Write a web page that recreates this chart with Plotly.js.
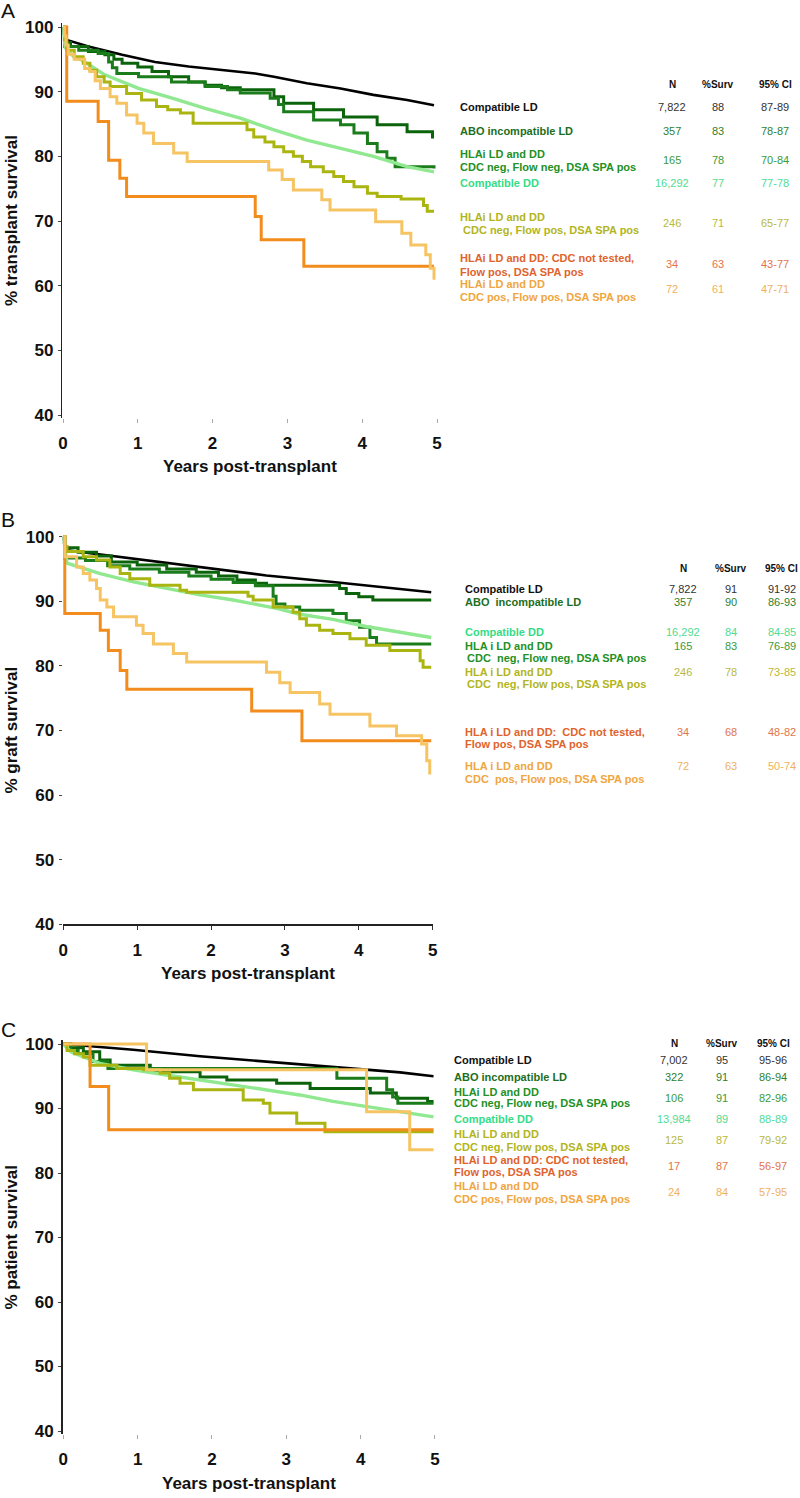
<!DOCTYPE html>
<html><head><meta charset="utf-8">
<script src="https://cdn.plot.ly/plotly-3.0.1.min.js"></script>
<style>html,body{margin:0;padding:0;background:#fff}#chart{width:800px;height:1498px}</style>
</head><body><div id="chart"></div>
<script>
// ================= DATA =================
const groupNames = ["Compatible LD","ABO incompatible LD","HLAi CDC neg, Flow neg, DSA SPA pos","Compatible DD","HLAi CDC neg, Flow pos, DSA SPA pos","HLAi CDC not tested, Flow pos, DSA SPA pos","HLAi CDC pos, Flow pos, DSA SPA pos"];
const xTickVals = [0,1,2,3,4,5];
const yTickVals = [40,50,60,70,80,90,100];

// ---- Panel A: % transplant survival ----
const tA_compLD = [0,0.02,0.05,0.34,0.79,1.23,1.68,2.57,2.82,3.26,3.71,4.15,4.60,4.96];
const sA_compLD = [100,98.4,98.0,97.0,95.7,94.6,93.9,92.8,92.3,91.3,90.5,89.5,88.7,87.9];
const tA_abo = [0,0.02,0.10,0.34,0.56,0.68,0.79,1.00,1.19,1.41,1.68,1.90,2.12,2.37,2.82,2.95,3.35,3.75,4.20,4.60,4.94,4.96];
const sA_abo = [100,97.6,97.0,96.2,95.7,95.0,94.4,93.8,93.1,92.3,91.5,91.0,90.6,90.3,89.2,88.2,87.2,86.1,84.9,83.8,83.0,83.0];
const tA_negneg = [0,0.02,0.21,0.47,0.61,0.66,0.72,1.01,1.45,1.90,2.20,2.37,2.77,2.88,2.95,3.35,3.71,3.89,4.07,4.20,4.33,4.44,4.96];
const sA_negneg = [100,97.0,96.4,95.9,94.6,93.7,92.8,92.3,91.5,90.8,90.3,89.8,89.0,88.0,86.9,85.6,84.9,83.6,82.0,80.7,79.7,78.4,78.1];
const tA_compDD = [0,0.03,0.16,0.25,0.56,1.01,1.46,1.90,2.37,2.82,3.26,3.71,4.15,4.60,4.96];
const sA_compDD = [100,96.8,95.2,94.9,92.6,90.5,89.0,87.4,85.9,84.1,82.5,81.3,80.0,78.4,77.6];
const tA_negpos = [0,0.02,0.05,0.15,0.27,0.36,0.45,0.55,0.63,0.85,1.05,1.25,1.40,1.57,1.74,2.46,2.55,2.70,2.82,2.95,3.08,3.20,3.31,3.48,3.62,3.75,3.89,4.07,4.20,4.52,4.82,4.87,4.96];
const sA_negpos = [100,98.0,96.4,95.4,94.4,93.3,92.3,91.5,90.8,89.7,88.7,87.7,87.2,86.7,85.1,84.1,83.0,82.2,81.5,80.7,80.0,79.2,78.4,77.6,76.9,76.1,75.3,74.3,73.8,73.4,72.4,71.5,71.5];
const tA_notTested = [0,0.05,0.47,0.61,0.76,0.85,2.57,2.65,3.22,4.96];
const sA_notTested = [100,88.5,85.4,79.4,76.6,73.8,70.7,67.1,63.0,63.0];
const tA_cdcPos = [0,0.02,0.04,0.07,0.15,0.29,0.36,0.43,0.50,0.63,0.72,0.85,0.99,1.08,1.21,1.48,1.66,2.75,2.93,3.08,3.46,3.57,4.18,4.53,4.65,4.85,4.91,4.96];
const sA_cdcPos = [100,98.6,97.2,95.8,95.0,93.6,93.1,91.7,90.5,89.2,88.2,86.4,85.1,83.6,82.0,80.5,79.2,77.9,76.4,74.8,73.3,71.7,69.9,68.1,66.3,64.8,62.7,60.9];

// ---- Panel B: % graft survival ----
const tB_compLD = [0,0.02,0.05,0.95,1.85,2.75,3.65,4.33,4.98];
const sB_compLD = [100,98.2,97.9,96.6,95.3,94.0,93.0,92.2,91.4];
const tB_abo = [0,0.02,0.20,0.45,0.65,1.00,1.40,1.80,2.10,2.35,2.60,2.75,3.74,3.83,4.00,4.19,4.98];
const sB_abo = [100,98.3,97.6,97.0,96.1,95.6,95.0,94.5,93.9,93.3,92.8,92.5,92.0,91.2,90.7,90.2,90.2];
const tB_negneg = [0,0.02,0.30,0.60,0.90,1.30,1.70,2.00,2.30,2.60,2.84,2.88,3.00,3.20,3.65,3.83,4.01,4.15,4.24,4.98];
const sB_negneg = [100,96.7,96.3,95.5,95.0,94.5,93.9,93.4,92.9,92.4,90.8,89.6,89.1,88.6,88.1,87.0,86.0,84.4,83.4,83.4];
const tB_compDD = [0,0.05,0.50,0.95,1.40,1.85,2.30,2.89,3.20,3.65,4.10,4.56,4.98];
const sB_compDD = [100,95.9,94.3,93.0,92.0,91.0,90.2,88.9,88.0,87.2,86.1,85.2,84.4];
const tB_negpos = [0,0.02,0.05,0.27,0.45,0.63,0.77,0.90,1.17,1.58,1.67,2.50,2.57,2.84,3.11,3.20,3.29,3.47,3.65,3.88,4.10,4.42,4.83,4.87,4.98];
const sB_negpos = [100,98.5,97.7,96.9,96.4,95.3,94.3,93.5,92.5,91.7,91.4,90.8,90.2,89.1,88.3,87.3,86.3,85.5,85.0,84.2,83.2,82.4,80.8,79.8,79.8];
const tB_notTested = [0,0.02,0.50,0.61,0.77,0.86,2.55,3.23,4.98];
const sB_notTested = [100,88.1,85.5,82.4,79.3,76.4,73.0,68.4,68.4];
const tB_cdcPos = [0,0.02,0.18,0.27,0.36,0.45,0.50,0.59,0.68,0.99,1.08,1.22,1.49,1.67,2.75,2.93,3.07,3.47,3.61,4.15,4.51,4.85,4.92,4.96];
const sB_cdcPos = [100,96.9,95.3,94.3,93.3,92.0,90.2,89.1,87.6,86.3,85.0,83.4,81.9,80.6,79.0,77.4,75.9,74.1,72.5,70.7,69.2,67.9,65.3,63.2];

// ---- Panel C: % patient survival ----
const tC_compLD = [0,0.94,1.84,2.74,3.63,4.08,4.53,4.98];
const sC_compLD = [100,99.1,98.1,97.3,96.5,96.0,95.6,95.0];
const tC_abo = [0,0.10,0.27,0.49,0.63,1.17,1.84,2.20,2.87,3.32,4.13,4.48,4.90,4.98];
const sC_abo = [100,99.4,98.8,97.5,96.7,95.7,94.9,94.4,93.9,93.1,92.4,91.6,91.1,91.1];
const tC_negneg = [0,0.10,0.20,0.40,0.60,3.68,4.35,4.43,4.50,4.98];
const sC_negneg = [100,99.0,98.5,97.3,96.2,94.7,92.9,91.8,90.8,90.8];
const tC_compDD = [0,0.10,0.49,0.94,1.39,1.84,2.29,2.74,3.18,3.63,4.08,4.53,4.98];
const sC_compDD = [100,98.8,97.0,96.0,95.2,94.4,93.6,92.9,92.1,91.1,90.3,89.5,88.7];
const tC_negpos = [0,0.05,0.15,0.27,0.36,0.72,1.08,1.30,1.43,1.57,1.75,2.42,2.69,2.78,3.14,3.52,4.98];
const sC_negpos = [100,99.0,98.5,98.0,96.7,96.2,96.0,95.5,94.7,93.9,92.9,91.3,90.8,89.3,87.7,86.4,86.4];
const tC_notTested = [0,0.36,0.61,4.98];
const sC_notTested = [100,93.4,86.7,86.7];
const tC_cdcPos = [0,1.12,4.08,4.66,4.98];
const sC_cdcPos = [100,96.0,89.5,83.6,83.6];

// ---- Tables ----
const labelsA = ["Compatible LD","ABO incompatible LD","HLAi LD and DD\nCDC neg, Flow neg, DSA SPA pos","Compatible DD","HLAi LD and DD\nCDC neg, Flow pos, DSA SPA pos","HLAi LD and DD: CDC not tested,\nFlow pos, DSA SPA pos","HLAi LD and DD\nCDC pos, Flow pos, DSA SPA pos"];
const nA = ["7,822","357","165","16,292","246","34","72"];
const survA = ["88","83","78","77","71","63","61"];
const ciA = ["87-89","78-87","70-84","77-78","65-77","43-77","47-71"];

const labelsB = ["Compatible LD","ABO  incompatible LD","HLA i LD and DD\nCDC  neg, Flow neg, DSA SPA pos","Compatible DD","HLA i LD and DD\nCDC  neg, Flow pos, DSA SPA pos","HLA i LD and DD:  CDC not tested,\nFlow pos, DSA SPA pos","HLA i LD and DD\nCDC  pos, Flow pos, DSA SPA pos"];
const nB = ["7,822","357","165","16,292","246","34","72"];
const survB = ["91","90","83","84","78","68","63"];
const ciB = ["91-92","86-93","76-89","84-85","73-85","48-82","50-74"];

const labelsC = ["Compatible LD","ABO incompatible LD","HLAi LD and DD\nCDC neg, Flow neg, DSA SPA pos","Compatible DD","HLAi LD and DD\nCDC neg, Flow pos, DSA SPA pos","HLAi LD and DD: CDC not tested,\nFlow pos, DSA SPA pos","HLAi LD and DD\nCDC pos, Flow pos, DSA SPA pos"];
const nC = ["7,002","322","106","13,984","125","17","24"];
const survC = ["95","91","91","89","87","87","84"];
const ciC = ["95-96","86-94","82-96","88-89","79-92","56-97","57-95"];

const headers = ["N","%Surv","95% CI"];
const yTitles = ["% transplant survival","% graft survival","% patient survival"];
const xTitle = "Years post-transplant";
const panelLetters = ["A","B","C"];

// ================= STYLE / LAYOUT =================
const W = 800, H = 1498;
const FONT = "Liberation Sans, Arial, Helvetica, sans-serif";
const lineColors = ["#000000","#0b630b","#1a7c1a","#90e890","#abb511","#f28c1c","#f6c462"];
const textColors = ["#111111","#1d6e1d","#249024","#34dc86","#b2b520","#e0632c","#f0a640"];
const numColors  = ["#333333","#2f7f2f","#3a9a3a","#50dc90","#b8b840","#e2744a","#f0b060"];
const lineWidths = [2.6,3,3,3.4,3,3,3];
const lineShapes = ["linear","hv","hv","linear","hv","hv","hv"];

const seriesA = [[tA_compLD,sA_compLD],[tA_abo,sA_abo],[tA_negneg,sA_negneg],[tA_compDD,sA_compDD],[tA_negpos,sA_negpos],[tA_notTested,sA_notTested],[tA_cdcPos,sA_cdcPos]];
const seriesB = [[tB_compLD,sB_compLD],[tB_abo,sB_abo],[tB_negneg,sB_negneg],[tB_compDD,sB_compDD],[tB_negpos,sB_negpos],[tB_notTested,sB_notTested],[tB_cdcPos,sB_cdcPos]];
const seriesC = [[tC_compLD,sC_compLD],[tC_abo,sC_abo],[tC_negneg,sC_negneg],[tC_compDD,sC_compDD],[tC_negpos,sC_negpos],[tC_notTested,sC_notTested],[tC_cdcPos,sC_cdcPos]];

// pixel geometry of each panel
const panels = [
  {series:seriesA, x0:63, x5:437, y100:27, y40:415, yr:[39.6,100.6], xr:[-0.01,5.02], yLine:true, xLine:false, letterY:11, xTitleY:467,
   labels:labelsA, n:nA, surv:survA, ci:ciA, headerY:84, colX:[458,672,718,775], indent:{4:3},
   rows:[[0,[107],107],[1,[131],131],[2,[154.3,166.7],160],[3,[183.3],183.3],[4,[216.7,230],223.3],[5,[257.7,271.7],264],[6,[284,296.7],289.3]]},
  {series:seriesB, x0:63.3, x5:432.7, y100:536.7, y40:924.3, yr:[40,100.6], xr:[-0.01,5.0], yLine:false, xLine:true, letterY:520, xTitleY:973,
   labels:labelsB, n:nB, surv:survB, ci:ciB, headerY:568, colX:[462.7,683.3,730.7,781.7], indent:{2:2.5,4:2.5},
   rows:[[0,[589],589],[1,[601.7],601.7],[3,[631.7],631.7],[2,[646,658.3],646],[4,[671.7,684],671.7],[5,[731.7,744],731.7],[6,[765.7,779],765.7]]},
  {series:seriesC, x0:63.3, x5:435, y100:1044, y40:1431, yr:[39.6,100.6], xr:[-0.01,5.02], yLine:true, xLine:false, letterY:1029, xTitleY:1483,
   labels:labelsC, n:nC, surv:survC, ci:ciC, headerY:1043, colX:[451.7,674.3,721.7,773.3], indent:{},
   rows:[[0,[1060],1060],[1,[1076.7],1076.7],[2,[1091.7,1103.3],1097.7],[3,[1119],1119],[4,[1134.3,1146.7],1140],[5,[1160,1172.3],1166],[6,[1185.7,1199],1191.7]]}
];

function xdom(p){ const ppu=(p.x5-p.x0)/5; return [(p.x0+p.xr[0]*ppu)/W, (p.x0+p.xr[1]*ppu)/W]; }
function ydom(p){ const ppu=(p.y40-p.y100)/60; const top=p.y100-(p.yr[1]-100)*ppu; const bot=p.y40+(40-p.yr[0])*ppu; return [1-bot/H, 1-top/H]; }
const px = v => v/W, py = v => 1-v/H;

const traces = [];
const layout = {
  width:W, height:H, margin:{l:0,r:0,t:0,b:0}, autosize:false, showlegend:false,
  paper_bgcolor:"#fff", plot_bgcolor:"#fff", font:{family:FONT, color:"#111"},
  annotations:[]
};

panels.forEach((p, i) => {
  const sfx = i === 0 ? "" : String(i+1);
  p.series.forEach((s, g) => {
    traces.push({x:s[0], y:s[1], xaxis:"x"+sfx, yaxis:"y"+sfx, type:"scatter", mode:"lines",
      name:groupNames[g], hoverinfo:"skip",
      line:{color:lineColors[g], width:lineWidths[g], shape:lineShapes[g]}});
  });
  layout["xaxis"+sfx] = {domain:xdom(p), range:p.xr, anchor:"y"+sfx, tickmode:"array", tickvals:xTickVals,
    ticks:"outside", ticklen:4, tickwidth:1, tickcolor:p.xLine?"#333":"#aaa",
    showline:p.xLine, linecolor:"#222", linewidth:1.5, showgrid:false, zeroline:false,
    tickfont:{family:FONT, size:17, weight:"bold", color:"#111"}, ticklabelstandoff:6, fixedrange:true};
  layout["yaxis"+sfx] = {domain:ydom(p), range:p.yr, anchor:"x"+sfx, tickmode:"array", tickvals:yTickVals,
    ticks:"outside", ticklen:3, tickwidth:1, tickcolor:"#444",
    showline:p.yLine, linecolor:"#222", linewidth:1.5, showgrid:false, zeroline:false,
    tickfont:{family:FONT, size:17, weight:"bold", color:"#111"}, ticklabelstandoff:1, fixedrange:true};

  const A = layout.annotations;
  // panel letter
  A.push({xref:"paper", yref:"paper", x:px(8), y:py(p.letterY), text:panelLetters[i], showarrow:false,
    xanchor:"center", yanchor:"middle", font:{family:FONT, size:21, color:"#111"}});
  // y title
  A.push({xref:"paper", yref:"paper", x:px(11), y:py((p.y100+p.y40)/2), text:"<b>"+yTitles[i]+"</b>", textangle:-90,
    showarrow:false, xanchor:"center", yanchor:"middle", font:{family:FONT, size:17, color:"#111"}});
  // x title
  A.push({xref:"paper", yref:"paper", x:px((p.x0+p.x5)/2), y:py(p.xTitleY), text:"<b>"+xTitle+"</b>",
    showarrow:false, xanchor:"center", yanchor:"middle", font:{family:FONT, size:17, color:"#111"}});
  // table header
  headers.forEach((h, k) => {
    A.push({xref:"paper", yref:"paper", x:px(p.colX[k+1]), y:py(p.headerY), text:"<b>"+h+"</b>", showarrow:false,
      xanchor:"center", yanchor:"middle", font:{family:FONT, size:10, color:"#111"}});
  });
  // table rows
  p.rows.forEach(r => {
    const g = r[0], lys = r[1], ny = r[2];
    const lines = p.labels[g].split("\n");
    lines.forEach((ln, k) => {
      const ind = (k > 0 && p.indent[g]) ? p.indent[g] : 0;
      A.push({xref:"paper", yref:"paper", x:px(p.colX[0]+ind), y:py(lys[k]), text:"<b>"+ln+"</b>", showarrow:false,
        xanchor:"left", yanchor:"middle", font:{family:FONT, size:11, color:textColors[g]}});
    });
    [p.n[g], p.surv[g], p.ci[g]].forEach((v, k) => {
      A.push({xref:"paper", yref:"paper", x:px(p.colX[k+1]), y:py(ny), text:v, showarrow:false,
        xanchor:"center", yanchor:"middle", font:{family:FONT, size:11, color:numColors[g]}});
    });
  });
});

Plotly.newPlot("chart", traces, layout, {staticPlot:true, displayModeBar:false});
</script>
</body></html>
